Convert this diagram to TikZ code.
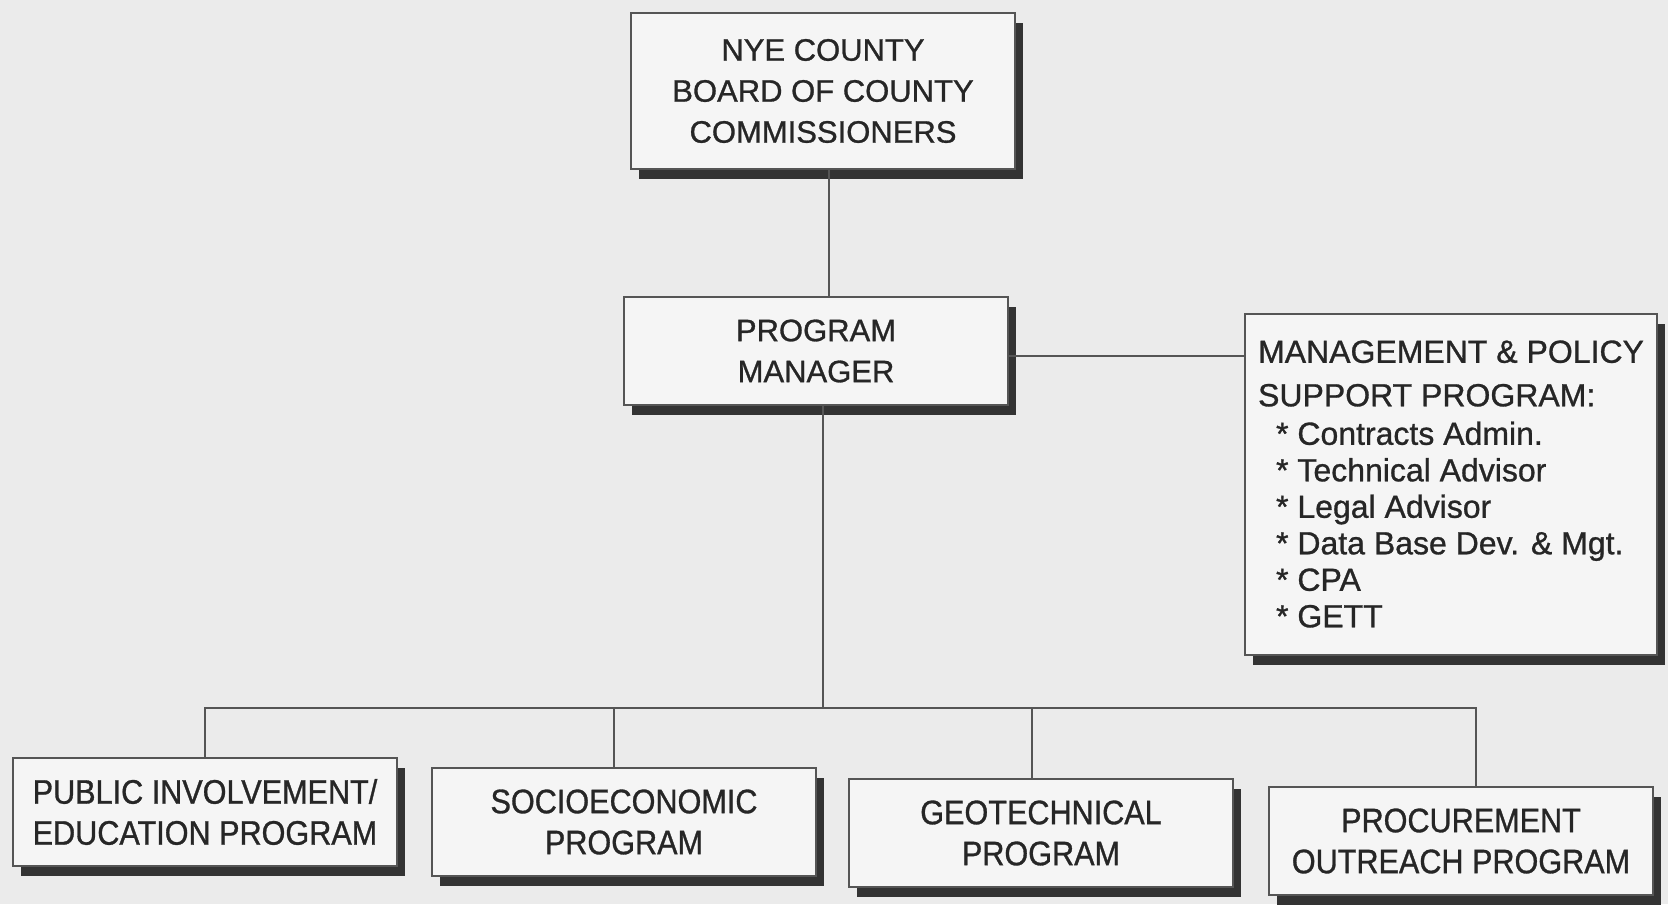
\documentclass[tikz,border=0pt]{standalone}
\usepackage{fontspec}
\setmainfont{Liberation Sans}[FakeBold=0.9]
\newfontfamily\narrowfont[FakeStretch=0.9,FakeBold=0.9]{Liberation Sans}
\usetikzlibrary{shadows}
\definecolor{bg}{HTML}{EBEBEB}
\definecolor{boxfill}{HTML}{F5F5F5}
\definecolor{ink}{HTML}{262626}
\definecolor{linec}{HTML}{555555}
\begin{document}
\begin{tikzpicture}[x=0.5pt,y=-0.5pt,
  orgbox/.style={draw=linec, line width=1pt, fill=boxfill, text=ink, align=center, inner sep=0pt,
     minimum width=192pt, minimum height=54pt,
     drop shadow={shadow xshift=4pt, shadow yshift=-5pt, fill=black!80, opacity=1}},
  topfont/.style={font=\fontsize{15.5}{20.5}\selectfont},
  lowfont/.style={font=\narrowfont\fontsize{17}{20.5}\selectfont},
  conn/.style={draw=linec, line width=1pt}]
\fill[bg] (0,0) rectangle (1668,904);
\useasboundingbox (0,0) rectangle (1668,904);

\node[orgbox, topfont, minimum height=78pt] (top) at (823,91) {NYE COUNTY\\BOARD OF COUNTY\\COMMISSIONERS};
\node[orgbox, topfont] (pm) at (816,351) {PROGRAM\\MANAGER};
\node[orgbox, minimum width=206pt, minimum height=170.5pt, align=left, font=\fontsize{16}{18.25}\selectfont] (mp) at (1451,484)
  {MANAGEMENT \& POLICY\\[3.5pt]SUPPORT PROGRAM:\\[1pt]\hspace*{9pt}* Contracts Admin.\\\hspace*{9pt}* Technical Advisor\\\hspace*{9pt}* Legal Advisor\\\hspace*{9pt}* Data Base Dev. \& Mgt.\\\hspace*{9pt}* CPA\\\hspace*{9pt}* GETT};

\node[orgbox, lowfont] (pi) at (205,812) {PUBLIC INVOLVEMENT/\\EDUCATION PROGRAM};
\node[orgbox, lowfont] (se) at (624,822) {SOCIOECONOMIC\\PROGRAM};
\node[orgbox, lowfont] (ge) at (1041,833) {GEOTECHNICAL\\PROGRAM};
\node[orgbox, lowfont] (pr) at (1461,841) {PROCUREMENT\\OUTREACH PROGRAM};

\coordinate (bus) at (823,708);
\draw[conn] ([xshift=3pt]top.south) -- ([xshift=3pt]top.south |- pm.north);
\draw[conn] ([yshift=-2.5pt]pm.east) -- ([yshift=-2.5pt]pm.east -| mp.west);
\draw[conn] ([xshift=3.5pt]pm.south) -- ([xshift=3.5pt]pm.south |- bus);
\draw[conn] (pi.north) |- ([xshift=7.5pt]pr.north |- bus) -- ([xshift=7.5pt]pr.north);
\draw[conn] ([xshift=-5pt]se.north) -- ([xshift=-5pt]se.north |- bus);
\draw[conn] ([xshift=-4.5pt]ge.north) -- ([xshift=-4.5pt]ge.north |- bus);
\end{tikzpicture}
\end{document}
